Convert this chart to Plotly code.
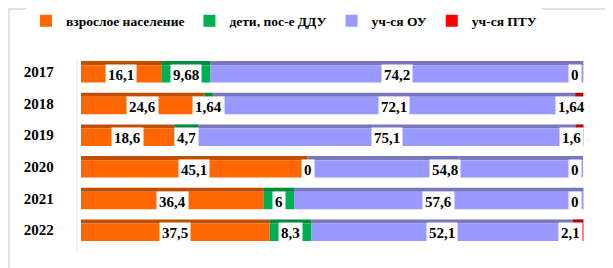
import plotly.graph_objects as go

years = ["2017", "2018", "2019", "2020", "2021", "2022"]
series_names = ["взрослое население", "дети, пос-е ДДУ", "уч-ся ОУ", "уч-ся ПТУ"]
adults = [16.1, 24.6, 18.6, 45.1, 36.4, 37.5]
children = [9.68, 1.64, 4.7, 0, 6, 8.3]
pupils_ou = [74.2, 72.1, 75.1, 54.8, 57.6, 52.1]
pupils_ptu = [0, 1.64, 1.6, 0, 0, 2.1]

series_values = [adults, children, pupils_ou, pupils_ptu]
face_colors = ["#FF6600", "#00B050", "#9999FF", "#FF0000"]
top_colors = ["#C04E00", "#008A3E", "#7777BB", "#C00000"]
label_xshift = [0, 0, 0, -8]

FONT = "Liberation Serif"

fig = go.Figure()
annotations = []
bases = [0.0] * len(years)
for name, vals, fc, tc, xs in zip(series_names, series_values, face_colors, top_colors, label_xshift):
    base = list(bases)
    # top (3D-like) face
    fig.add_trace(go.Bar(
        y=years, x=vals, base=base, orientation="h",
        width=0.13, offset=-0.34, marker=dict(color=tc, line=dict(width=0)),
        showlegend=False, hoverinfo="skip"))
    # front face
    fig.add_trace(go.Bar(
        y=years, x=vals, base=base, orientation="h", name="<b>" + name + "</b>",
        width=0.55, offset=-0.21, marker=dict(color=fc, line=dict(width=0))))
    for i, (y, v) in enumerate(zip(years, vals)):
        annotations.append(dict(
            x=base[i] + v / 2, y=i, xref="x", yref="y", yshift=-3, xshift=xs,
            text="<b>" + ("%g" % v).replace(".", ",") + "</b>",
            showarrow=False, bgcolor="white", borderpad=2,
            font=dict(family=FONT, size=15, color="black")))
    bases = [b + v for b, v in zip(bases, vals)]

fig.update_layout(
    width=613, height=268,
    margin=dict(l=73, r=35, t=48, b=30, autoexpand=False),
    barmode="overlay",
    plot_bgcolor="white", paper_bgcolor="white",
    font=dict(family=FONT, size=15, color="black"),
    annotations=annotations,
    legend=dict(orientation="h", x=-0.109, xanchor="left", y=1.184, yanchor="middle",
                font=dict(family=FONT, size=13.5, color="black")),
    shapes=[
        dict(type="rect", xref="paper", yref="paper", x0=-0.1426, x1=1.063,
             y0=-0.142, y1=1.247, line=dict(color="#D9D9D9", width=1.5), layer="below"),
        dict(type="line", xref="paper", yref="paper", x0=-0.008, x1=-0.008,
             y0=-0.03, y1=0.98, line=dict(color="#E3E3E3", width=1), layer="below"),
    ],
)
fig.update_xaxes(range=[0, 100.5], visible=False, showgrid=False)
fig.update_yaxes(type="category", autorange="reversed", showgrid=False, zeroline=False,
                 showline=False, ticks="",
                 tickvals=years,
                 ticktext=["<b>" + y + "</b>" + "\u00a0" * 7 for y in years],
                 tickfont=dict(family=FONT, size=15, color="black"))

fig.write_html("out.html")
